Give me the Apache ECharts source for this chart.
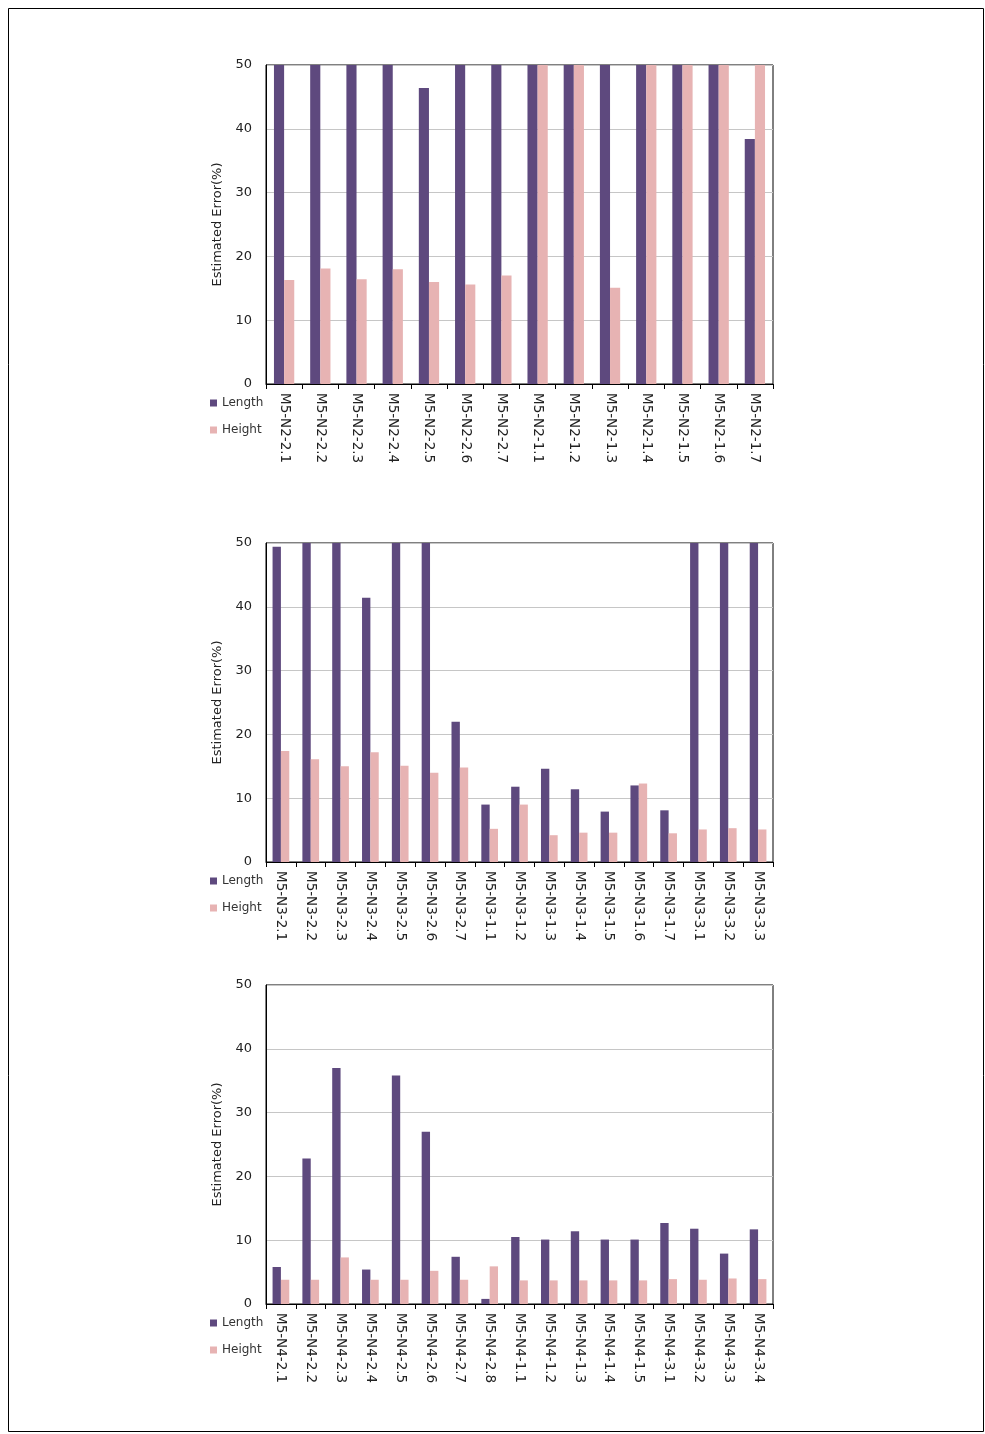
<!DOCTYPE html>
<html>
<head>
<meta charset="utf-8">
<script src="https://cdn.jsdelivr.net/npm/echarts@6/dist/echarts.min.js"></script>
<style>
  html, body { margin: 0; padding: 0; background: #fff; }
  #chart { width: 985px; height: 1434px; }
</style>
</head>
<body>
<div id="chart"></div>
<script>
// categories and values
const catsN2 = ['M5-N2-2.1', 'M5-N2-2.2', 'M5-N2-2.3', 'M5-N2-2.4', 'M5-N2-2.5', 'M5-N2-2.6', 'M5-N2-2.7',
  'M5-N2-1.1', 'M5-N2-1.2', 'M5-N2-1.3', 'M5-N2-1.4', 'M5-N2-1.5', 'M5-N2-1.6', 'M5-N2-1.7'];
const lengthN2 = [50, 50, 50, 50, 46.4, 50, 50, 50, 50, 50, 50, 50, 50, 38.4];
const heightN2 = [16.3, 18.1, 16.4, 18.0, 16.0, 15.6, 17.0, 50, 50, 15.1, 50, 50, 50, 50];

const catsN3 = ['M5-N3-2.1', 'M5-N3-2.2', 'M5-N3-2.3', 'M5-N3-2.4', 'M5-N3-2.5', 'M5-N3-2.6', 'M5-N3-2.7',
  'M5-N3-1.1', 'M5-N3-1.2', 'M5-N3-1.3', 'M5-N3-1.4', 'M5-N3-1.5', 'M5-N3-1.6', 'M5-N3-1.7',
  'M5-N3-3.1', 'M5-N3-3.2', 'M5-N3-3.3'];
const lengthN3 = [49.4, 50, 50, 41.4, 50, 50, 22.0, 9.0, 11.8, 14.6, 11.4, 7.9, 12.0, 8.1, 50, 50, 50];
const heightN3 = [17.4, 16.1, 15.0, 17.2, 15.1, 14.0, 14.8, 5.2, 9.0, 4.2, 4.6, 4.6, 12.3, 4.5, 5.1, 5.3, 5.1];

const catsN4 = ['M5-N4-2.1', 'M5-N4-2.2', 'M5-N4-2.3', 'M5-N4-2.4', 'M5-N4-2.5', 'M5-N4-2.6', 'M5-N4-2.7', 'M5-N4-2.8',
  'M5-N4-1.1', 'M5-N4-1.2', 'M5-N4-1.3', 'M5-N4-1.4', 'M5-N4-1.5',
  'M5-N4-3.1', 'M5-N4-3.2', 'M5-N4-3.3', 'M5-N4-3.4'];
const lengthN4 = [5.8, 22.8, 37.0, 5.4, 35.8, 27.0, 7.4, 0.8, 10.5, 10.1, 11.4, 10.1, 10.1, 12.7, 11.8, 7.9, 11.7];
const heightN4 = [3.8, 3.8, 7.3, 3.8, 3.8, 5.2, 3.8, 5.9, 3.7, 3.7, 3.7, 3.7, 3.7, 3.9, 3.8, 4.0, 3.9];

const yTicks = [0, 10, 20, 30, 40, 50];

const panels = [
  { cats: catsN2, length: lengthN2, height: heightN2, top: 65 },
  { cats: catsN3, length: lengthN3, height: heightN3, top: 543 },
  { cats: catsN4, length: lengthN4, height: heightN4, top: 985 }
];

const FONT = 'DejaVu Sans';
const PURPLE = '#5e497e';
const PINK = '#e7b3b3';

const grid = [], xAxis = [], yAxis = [], series = [], legend = [];
panels.forEach(function (p, i) {
  grid.push({
    left: 266, top: p.top, width: 507, height: 319,
    show: true, borderColor: '#000', borderWidth: 1, backgroundColor: '#fff'
  });
  xAxis.push({
    type: 'category', gridIndex: i, data: p.cats,
    axisLine: { lineStyle: { color: '#000', width: 1 } },
    axisTick: { show: true, alignWithLabel: false, length: 5, lineStyle: { color: '#000' } },
    axisLabel: { rotate: -90, color: '#222', fontFamily: FONT, fontSize: 13.5, margin: 9, interval: 0 }
  });
  yAxis.push({
    type: 'value', gridIndex: i, min: yTicks[0], max: yTicks[yTicks.length - 1], interval: 10,
    name: 'Estimated Error(%)', nameLocation: 'middle', nameGap: 39,
    nameTextStyle: { color: '#222', fontFamily: FONT, fontSize: 13 },
    axisLine: { show: true, lineStyle: { color: '#000' } },
    axisTick: { show: false },
    axisLabel: { color: '#222', fontFamily: FONT, fontSize: 13, margin: 14 },
    splitLine: { lineStyle: { color: '#c6c6c6', width: 1 } }
  });
  series.push({
    name: 'Length', type: 'bar', xAxisIndex: i, yAxisIndex: i, data: p.length,
    itemStyle: { color: PURPLE }, barGap: '0%', barCategoryGap: '44%'
  });
  series.push({
    name: 'Height', type: 'bar', xAxisIndex: i, yAxisIndex: i, data: p.height,
    itemStyle: { color: PINK }, barGap: '0%', barCategoryGap: '44%'
  });
  legend.push({
    orient: 'vertical', left: 205, top: p.top + 327,
    data: ['Length', 'Height'], icon: 'rect', itemWidth: 7, itemHeight: 7, itemGap: 15,
    textStyle: { color: '#333', fontFamily: FONT, fontSize: 12 },
    selectedMode: false
  });
});

const myChart = echarts.init(document.getElementById('chart'), null, { renderer: 'canvas' });
const option = {
  backgroundColor: '#fff',
  animation: false,
  graphic: [{
    type: 'rect', left: 6, top: 6,
    shape: { width: 975, height: 1423 },
    style: { fill: 'none', stroke: '#000', lineWidth: 1 }
  }],
  legend: legend,
  grid: grid,
  xAxis: xAxis,
  yAxis: yAxis,
  series: series
};
myChart.setOption(option);
</script>
</body>
</html>
